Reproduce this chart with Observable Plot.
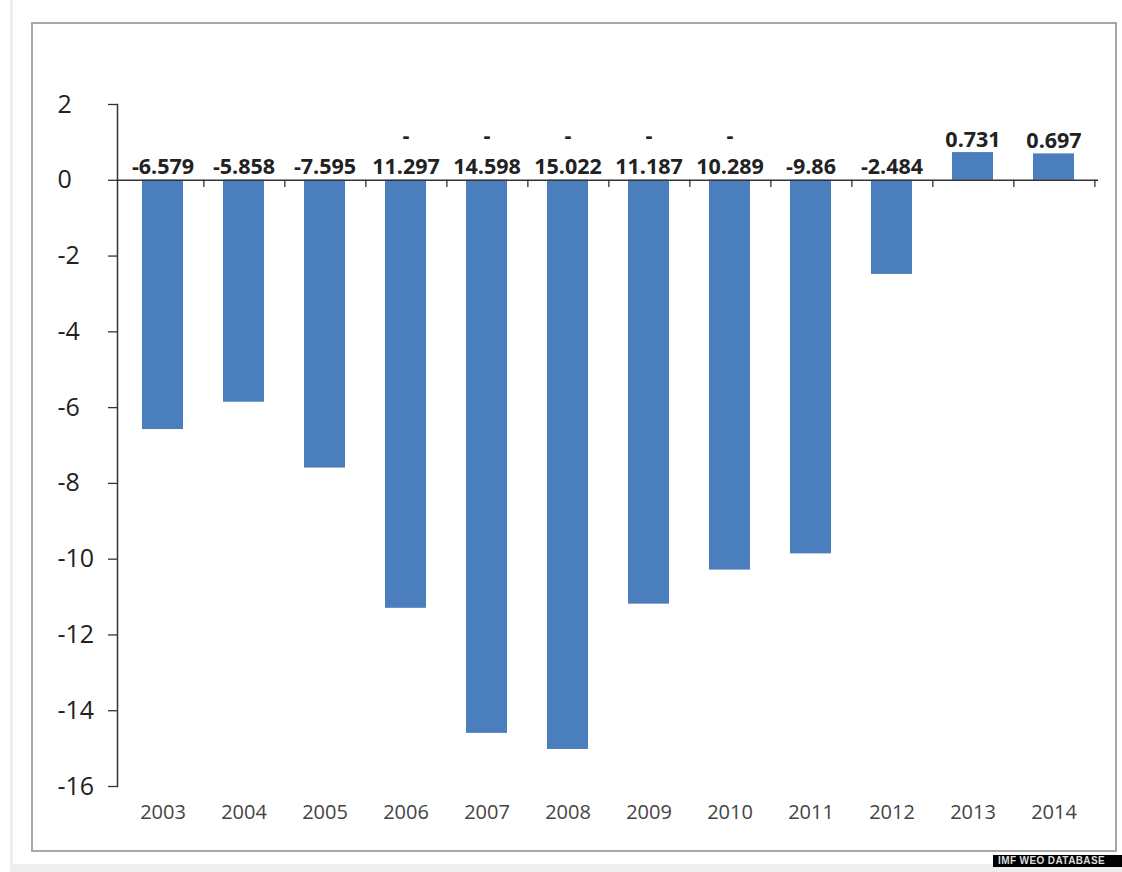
<!DOCTYPE html>
<html><head><meta charset="utf-8">
<script src="https://cdn.jsdelivr.net/npm/d3@7"></script>
<script src="https://cdn.jsdelivr.net/npm/@observablehq/plot@0.6"></script>
<style>
body{margin:0;background:#fff;font-family:"Open Sans",sans-serif}
#wrap{position:relative;width:1122px;height:872px;overflow:hidden;background:#fff}
.strip-left{position:absolute;left:10px;top:0;width:3px;height:872px;background:#eeeeee}
.strip-bottom{position:absolute;left:10px;top:864px;width:1112px;height:8px;background:#eeeeee}
.frame{position:absolute;left:31px;top:22px;width:1086px;height:830px;border:2px solid #a8a8a8;box-sizing:border-box;background:#fff}
#chart{position:absolute;left:0;top:0}
.wm{position:absolute;left:993px;top:855px;width:129px;height:12px;background:#000;color:#ddd;font:bold 10px "Liberation Sans Narrow","Liberation Sans",sans-serif;line-height:12px;padding-left:5px;box-sizing:border-box;white-space:nowrap;letter-spacing:0.4px}
</style></head><body>
<div id="wrap">
  <div class="strip-left"></div>
  <div class="strip-bottom"></div>
  <div class="frame"></div>
  <div id="chart"></div>
  <div class="wm">IMF WEO DATABASE</div>
</div>
<script>
const years = ["2003","2004","2005","2006","2007","2008","2009","2010","2011","2012","2013","2014"];
const values = [-6.579,-5.858,-7.595,-11.297,-14.598,-15.022,-11.187,-10.289,-9.86,-2.484,0.731,0.697];
const valueLabels = ["-6.579","-5.858","-7.595","-\n11.297","-\n14.598","-\n15.022","-\n11.187","-\n10.289","-9.86","-2.484","0.731","0.697"];
const yTicks = [2,0,-2,-4,-6,-8,-10,-12,-14,-16];

const data = years.map((year, i) => ({year, value: values[i], label: valueLabels[i]}));

const W = 1122, H = 872, ML = 117, MR = 24, MT = 104, MB = 86;
const step = (W - ML - MR) / years.length;

const chart = Plot.plot({
  width: W, height: H,
  marginLeft: ML, marginRight: MR, marginTop: MT, marginBottom: MB,
  style: {background: "transparent", fontFamily: "'Open Sans', sans-serif", color: "#333"},
  x: {domain: years, paddingInner: 0.5, paddingOuter: 0.25, label: null},
  y: {domain: [-16, 2], label: null},
  marks: [
    Plot.barY(data, {x: "year", y: "value", fill: "#4a7ebd"}),
    Plot.ruleY([0], {stroke: "#333", strokeWidth: 1.5}),
    Plot.ruleX(years, {x: d => d, dx: step / 2, y1: 0, y2: -0.19, stroke: "#333", strokeWidth: 1.3}),
    Plot.frame({anchor: "left", stroke: "#333", strokeWidth: 1.5}),
    Plot.axisY({ticks: yTicks, tickSize: 9, strokeWidth: 1.3, tickFormat: () => "", label: null}),
    Plot.axisY({ticks: yTicks, tickSize: 0, tickPadding: 0, textAnchor: "start", dx: -60,
      fontSize: 25, fill: "#222", tickFormat: d => String(d), label: null, letterSpacing: 2}),
    Plot.axisX({tickSize: 0, tickPadding: 18, fontSize: 20, fill: "#444", label: null, letterSpacing: 1.2}),
    Plot.text(data, {x: "year", y: d => Math.max(0, d.value), text: "label", lineAnchor: "bottom", dy: -6,
      fontSize: 21.5, fontWeight: "bold", fill: "#222", lineHeight: 1.45, letterSpacing: 1.8})
  ]
});
document.getElementById("chart").appendChild(chart);
</script>
</body></html>
